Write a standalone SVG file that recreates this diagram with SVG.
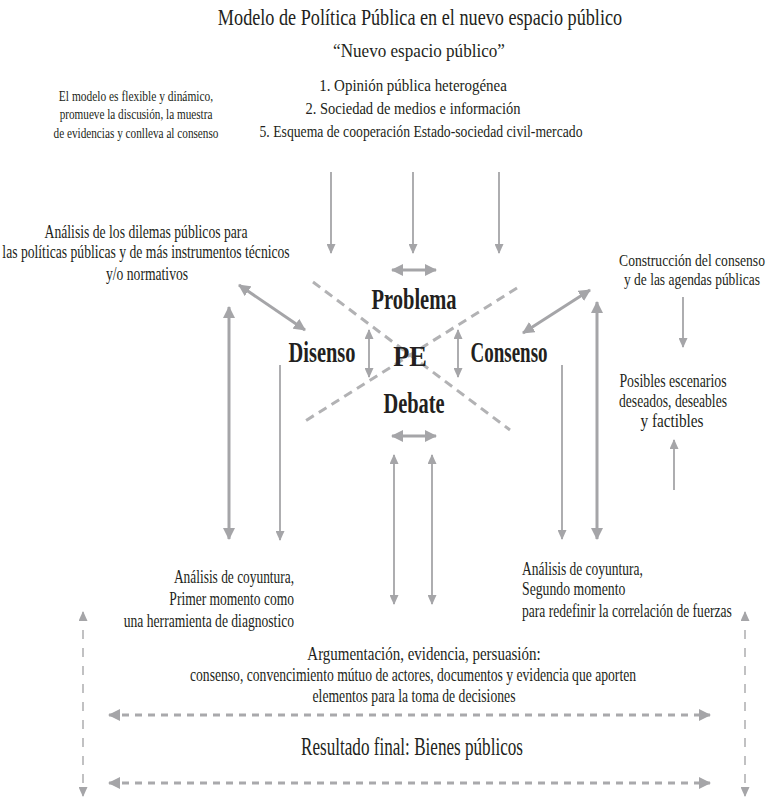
<svg xmlns="http://www.w3.org/2000/svg" width="771" height="799" viewBox="0 0 771 799">
<defs>
<marker id="s" viewBox="0 0 10 9" refX="9" refY="4.5" markerWidth="10" markerHeight="9" markerUnits="userSpaceOnUse" orient="auto-start-reverse"><path d="M0,0 L10,4.5 L0,9 z" fill="#a5a5a8"/></marker>
<marker id="b" viewBox="0 0 12 12" refX="11" refY="6" markerWidth="12" markerHeight="12" markerUnits="userSpaceOnUse" orient="auto-start-reverse"><path d="M0,0 L12,6 L0,12 z" fill="#a5a5a8"/></marker>
<style>
text{font-family:"Liberation Serif","Times New Roman",serif;fill:#231f20;}
.t{font-size:18px;}
.c{text-anchor:middle;}
.r{text-anchor:end;}
.bd{font-weight:bold;font-size:30px;text-anchor:middle;}
.th{stroke:#a5a5a8;stroke-width:1.8;fill:none;}
.tk{stroke:#a5a5a8;stroke-width:3;fill:none;}
.dx{stroke:#b2b2b4;stroke-width:3;stroke-dasharray:9 6;fill:none;}
.dv{stroke:#b2b2b4;stroke-width:1.6;stroke-dasharray:9 9;fill:none;}
.dh{stroke:#a9a9ac;stroke-width:3;stroke-dasharray:7 6;fill:none;}
</style>
</defs>
<g id="connectors">
<line class="th" x1="331" y1="172" x2="331" y2="253" marker-end="url(#s)"/>
<line class="th" x1="413" y1="172" x2="413" y2="253" marker-end="url(#s)"/>
<line class="th" x1="499" y1="172" x2="499" y2="253" marker-end="url(#s)"/>
<line class="tk" x1="392" y1="270" x2="436" y2="270" marker-start="url(#b)" marker-end="url(#b)"/>
<line class="tk" x1="392" y1="436" x2="436" y2="436" marker-start="url(#b)" marker-end="url(#b)"/>
<line class="tk" x1="239" y1="285" x2="305" y2="330" marker-start="url(#b)" marker-end="url(#b)"/>
<line class="tk" x1="590" y1="290" x2="523" y2="333" marker-start="url(#b)" marker-end="url(#b)"/>
<line class="th" x1="369" y1="330" x2="369" y2="377" marker-start="url(#s)" marker-end="url(#s)"/>
<line class="th" x1="458" y1="330" x2="458" y2="377" marker-start="url(#s)" marker-end="url(#s)"/>
<line class="dx" x1="313" y1="282" x2="510" y2="430"/>
<line class="dx" x1="517" y1="288" x2="302" y2="423"/>
<line class="tk" x1="229" y1="307" x2="229" y2="539" marker-start="url(#b)" marker-end="url(#b)"/>
<line class="th" x1="280" y1="365" x2="280" y2="540" marker-end="url(#s)"/>
<line class="th" x1="394" y1="455" x2="394" y2="604" marker-start="url(#s)" marker-end="url(#s)"/>
<line class="th" x1="432" y1="455" x2="432" y2="604" marker-start="url(#s)" marker-end="url(#s)"/>
<line class="th" x1="562" y1="365" x2="562" y2="539" marker-end="url(#s)"/>
<line class="tk" x1="597" y1="302" x2="597" y2="539" marker-start="url(#b)" marker-end="url(#b)"/>
<line class="th" x1="683" y1="297" x2="683" y2="347" marker-end="url(#s)"/>
<line class="th" x1="674" y1="490" x2="674" y2="440" marker-end="url(#s)"/>
<line class="dv" x1="83" y1="612" x2="83" y2="796" marker-start="url(#s)" marker-end="url(#s)"/>
<line class="dv" x1="745" y1="612" x2="745" y2="796" marker-start="url(#s)" marker-end="url(#s)"/>
<line class="dh" x1="109" y1="715" x2="710" y2="715" marker-start="url(#b)" marker-end="url(#b)"/>
<line class="dh" x1="109" y1="783" x2="710" y2="783" marker-start="url(#b)" marker-end="url(#b)"/>
</g>
<g id="title">
<text transform="translate(420,25) scale(0.76,1)" class="c" font-size="24" textLength="532" lengthAdjust="spacingAndGlyphs">Modelo de Política Pública en el nuevo espacio público</text>
</g>
<g id="nuevo-espacio">
<text transform="translate(419,57) scale(0.76,1)" class="c" font-size="19" textLength="226" lengthAdjust="spacingAndGlyphs">“Nuevo espacio público”</text>
<text transform="translate(413,91) scale(0.76,1)" class="c" font-size="17" textLength="247" lengthAdjust="spacingAndGlyphs">1. Opinión pública heterogénea</text>
<text transform="translate(413,114) scale(0.76,1)" class="c" font-size="17" textLength="283" lengthAdjust="spacingAndGlyphs">2. Sociedad de medios e información</text>
<text transform="translate(421,137) scale(0.76,1)" class="c" font-size="17" textLength="425" lengthAdjust="spacingAndGlyphs">5. Esquema de cooperación Estado-sociedad civil-mercado</text>
</g>
<g id="modelo-flexible">
<text transform="translate(136,101) scale(0.76,1)" class="c" font-size="14.5" textLength="203" lengthAdjust="spacingAndGlyphs">El modelo es flexible y dinámico,</text>
<text transform="translate(136,119) scale(0.76,1)" class="c" font-size="14.5" textLength="201" lengthAdjust="spacingAndGlyphs">promueve la discusión, la muestra</text>
<text transform="translate(136,138) scale(0.76,1)" class="c" font-size="14.5" textLength="217" lengthAdjust="spacingAndGlyphs">de evidencias y conlleva al consenso</text>
</g>
<g id="dilemas">
<text transform="translate(146,238) scale(0.76,1)" class="c t" textLength="267" lengthAdjust="spacingAndGlyphs">Análisis de los dilemas públicos para</text>
<text transform="translate(146,258) scale(0.76,1)" class="c t" textLength="378" lengthAdjust="spacingAndGlyphs">las políticas públicas y de más instrumentos técnicos</text>
<text transform="translate(147,280) scale(0.76,1)" class="c t" textLength="108" lengthAdjust="spacingAndGlyphs">y/o normativos</text>
</g>
<g id="construccion">
<text transform="translate(692,266) scale(0.76,1)" class="c" font-size="16.5" textLength="192" lengthAdjust="spacingAndGlyphs">Construcción del consenso</text>
<text transform="translate(692,285) scale(0.76,1)" class="c" font-size="16.5" textLength="179" lengthAdjust="spacingAndGlyphs">y de las agendas públicas</text>
</g>
<g id="escenarios">
<text transform="translate(673,387) scale(0.76,1)" class="c t" textLength="141" lengthAdjust="spacingAndGlyphs">Posibles escenarios</text>
<text transform="translate(673,407) scale(0.76,1)" class="c t" textLength="142" lengthAdjust="spacingAndGlyphs">deseados, deseables</text>
<text transform="translate(672,427) scale(0.76,1)" class="c t" textLength="83" lengthAdjust="spacingAndGlyphs">y factibles</text>
</g>
<g id="problema"><text transform="translate(414,309) scale(0.72,1)" class="bd" textLength="118" lengthAdjust="spacingAndGlyphs">Problema</text></g>
<g id="disenso"><text transform="translate(322,362) scale(0.72,1)" class="bd" textLength="93" lengthAdjust="spacingAndGlyphs">Disenso</text></g>
<g id="pe"><text transform="translate(410,366) scale(0.75,1)" class="bd" font-size="36" textLength="45" lengthAdjust="spacingAndGlyphs">PE</text></g>
<g id="consenso"><text transform="translate(509,362) scale(0.72,1)" class="bd" textLength="107" lengthAdjust="spacingAndGlyphs">Consenso</text></g>
<g id="debate"><text transform="translate(414,413) scale(0.72,1)" class="bd" textLength="85" lengthAdjust="spacingAndGlyphs">Debate</text></g>
<g id="coyuntura-1">
<text transform="translate(294,583) scale(0.76,1)" class="r t" textLength="158" lengthAdjust="spacingAndGlyphs">Análisis de coyuntura,</text>
<text transform="translate(294,605) scale(0.76,1)" class="r t" textLength="164" lengthAdjust="spacingAndGlyphs">Primer momento como</text>
<text transform="translate(294,627) scale(0.76,1)" class="r t" textLength="224" lengthAdjust="spacingAndGlyphs">una herramienta de diagnostico</text>
</g>
<g id="coyuntura-2">
<text transform="translate(522,575) scale(0.76,1)" class="t" textLength="159" lengthAdjust="spacingAndGlyphs">Análisis de coyuntura,</text>
<text transform="translate(522,595) scale(0.76,1)" class="t" textLength="136" lengthAdjust="spacingAndGlyphs">Segundo momento</text>
<text transform="translate(522,617) scale(0.76,1)" class="t" textLength="276" lengthAdjust="spacingAndGlyphs">para redefinir la correlación de fuerzas</text>
</g>
<g id="argumentacion">
<text transform="translate(424,660) scale(0.76,1)" class="c t" textLength="307" lengthAdjust="spacingAndGlyphs">Argumentación, evidencia, persuasión:</text>
<text transform="translate(413,681) scale(0.76,1)" class="c t" textLength="587" lengthAdjust="spacingAndGlyphs">consenso, convencimiento mútuo de actores, documentos y evidencia que aporten</text>
<text transform="translate(414,702) scale(0.76,1)" class="c t" textLength="267" lengthAdjust="spacingAndGlyphs">elementos para la toma de decisiones</text>
</g>
<g id="resultado">
<text transform="translate(412,755) scale(0.76,1)" class="c" font-size="25" textLength="292" lengthAdjust="spacingAndGlyphs">Resultado final: Bienes públicos</text>
</g>
</svg>
